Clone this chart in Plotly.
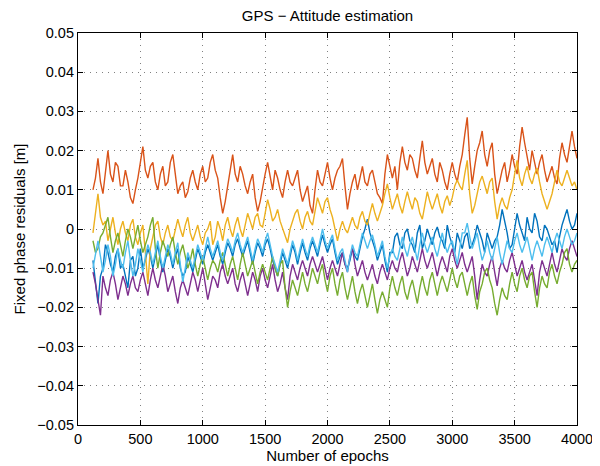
import plotly.graph_objects as go

# epochs (x values), every 20 epochs from 120 to 4000
epochs = list(range(120, 4001, 20))

# residuals in millimetres
blue_mm = [-8, -13, -19, -12, -10, -4, -6, -9, -11, -7, -5, -10, -9, -12, -15, -8, -7, -12, -10, -5,
           -10, -8, -5, -7, -10, -7, -4, -8, -11, -8, -5, -7, -10, -7, -5, -10, -12, -11, -7, -9,
           -11, -8, -5, -7, -9, -6, -4, -6, -8, -6, -4, -7, -9, -6, -3.5, -5, -7, -4, -2.5, -5,
           -7, -5, -3, -6, -9, -6, -3.5, -5, -7, -4, -2.5, -5, -8, -10, -12, -9, -6, -8, -10, -7,
           -4, -6, -9, -6, -3.5, -6, -8, -5, -3, -5, -7, -4, -1.5, -4, -6, -4, -2.5, -6, -9, -7,
           -6, -9, -10, -8, -5, -7, -8, -5, -2, 0, 2.5, -1, -3, -5, -8, -6, -4, -8, -11, -6,
           -6, -2, -1, -4, -5, -1, 0, -3, -4, -6, -1, 1, -5, -3, 0, -2, -4, -1, 0.5, -2,
           -3, -5, 1, -2, -4, -6, -1, -3, -5, -2, -1, -5, -4, -2, 1, -1, -3, -6, -1, -3,
           -5, -3, -2, 1, 5, 2, -1, -5, -4, 0, 4, 1, -1, -3, 3, 0, -1, 4, 2, -2,
           -3, 1, 0, -2, -4, -3, -6, -2, 1, 3, 5, 2, 0, 1, 4]
orange_mm = [10, 13, 18, 12, 9, 15, 20, 14, 12, 17, 16, 11, 11, 15, 12, 8, 6.5, 10, 13, 17,
             21, 15, 13, 16, 17, 12, 10, 14, 16, 11, 12, 17, 19, 14, 9, 11, 12, 8, 9.5, 13,
             15, 12, 10, 14, 16, 12, 13, 17, 19, 15, 13, 8, 4, 7, 11, 16, 19, 14, 12, 16,
             14, 11, 9, 12, 14, 8, 4.5, 7, 11, 14, 17, 13, 10, 15, 13, 10, 8, 12, 15, 12,
             11, 13, 15, 10, 7, 9, 11, 6, 4, 10, 15, 12, 11, 14, 17, 13, 10, 13, 15, 16,
             18, 11, 5, 9, 12, 14, 10, 13, 16, 12, 11, 14, 15, 12, 9, 8, 6.5, 14, 19, 16,
             13, 16, 10, 17, 21, 17, 15, 19, 18, 15, 13, 18, 22.5, 17, 14, 16, 18, 14, 12, 17,
             15, 12, 10, 14, 17, 14, 12, 16, 19, 24, 28.5, 18, 11.5, 16, 20, 22, 25, 19, 16, 20,
             22, 14, 9, 12, 15, 17, 12, 15, 19, 16, 14, 21, 26, 22, 18, 15, 20, 17, 14, 17,
             19, 15, 12, 14, 16, 13, 11.5, 18, 22, 19, 17, 21, 25, 21, 18]
yellow_mm = [-1, 4, 9, 3, 1, 2, -3, 0, 3, -1, -4, 0, 2, -1, -3, 1, 2.5, -2, -4, -1,
             1, -6, -14, -5, -2, 1, 2, -2, -4, -1, 1, -2, -3, 0, 2.5, 0, -2, 1, 3, -1,
             -3, -1, 1, -2, -4, -1, 0, 2, -4, -2, 2, 0, -3, 1, 3, 0, -2, 1, 3, 0,
             -2, 1, 4, 2, 0, 3, 4, 1, 0.5, 4, 7.5, 5, 2, 3, 5, 2, 0, -2, -3.5, 0,
             2, 4, 5, 2, 0, 3, 4.5, 2, 1, 5, 8, 6, 4, 7, 8, 5, 3, 0, -3, 0,
             2, 0, -1, 1, 3, 1, 0, 3, 4.5, 2, 1, 4, 6.5, 4, 2, 4, 6, 9, 11.5, 8,
             5, 7, 9, 6, 4, 7, 9.5, 7, 5, 8, 7, 4, 2.5, 6, 9.5, 7, 5, 7, 9, 6,
             4, 7, 8.5, 6, 8, 11, 12.5, 11, 10, 14, 17.5, 9, 4, 6, 9, 12, 13.5, 11, 9, 12,
             13, 7, 2.5, 6, 8, 6, 5, 8, 10, 14, 17.5, 13, 11, 14, 16, 13, 11.5, 14, 15.5, 12,
             9, 7, 5, 7, 9, 12, 15, 12, 11, 13, 15, 13, 11, 12, 10]
purple_mm = [-11, -14, -18, -22, -12, -15, -17, -13, -11, -14, -18, -15, -12, -14, -17, -14, -12, -15, -16, -13,
             -11, -14, -17, -13, -10, -13, -15, -12, -9, -12, -16, -14, -12, -16, -19, -15, -13, -15, -17, -14,
             -11, -13, -16, -13, -10, -14, -18, -15, -12, -13, -15, -11, -9, -12, -14, -12, -10, -14, -16, -13,
             -11, -14, -17, -14, -11, -13, -16, -12, -10, -13, -15, -12, -9, -13, -16, -14, -11, -15, -18, -12,
             -9, -11, -13, -10, -8, -10, -12, -9, -7, -9, -11, -9, -7, -10, -13, -10, -8, -10, -12, -9,
             -6, -9, -11, -7, -5, -9, -12, -10, -8, -11, -13, -11, -9, -12, -14, -11, -9, -11, -13, -10,
             -8, -10, -11, -8, -6, -9, -12, -10, -7, -9, -11, -8, -5, -8, -10, -8, -6, -9, -12, -9,
             -7, -9, -11, -7, -5, -8, -10, -8, -6, -9, -11, -9, -7, -12, -18, -13, -9, -11, -12, -9,
             -7, -11, -14.5, -10, -8, -10, -11, -8, -6, -9, -12, -10, -8, -11, -13, -11, -9, -13, -17, -11,
             -8, -10, -12, -9, -6, -9, -11, -8, -5, -7, -8, -5, -3, -5, -7]
green_mm = [-3, -6, -5, -2, -1, 1, 3, -2, -6, -3, -1, -4, -7, -3, 0, -2, -5, -2, 1, -3,
            -6, -4, -2, 1, 3, -5, -10, -6, -3, -5, -7, -4, -2, -6, -9, -6, -4, -7, -10, -8,
            -5, -9, -12, -9, -7, -10, -13, -10, -8, -9, -11, -8, -6, -9, -12, -9, -7, -10, -13, -9,
            -6, -9, -12, -10, -8, -11, -14, -11, -9, -11, -13, -10, -7, -10, -12, -9, -8, -15, -20, -16,
            -13, -15, -17, -14, -11, -14, -16, -13, -10, -12, -14, -11, -9, -13, -16, -12, -10, -14, -17, -13,
            -11, -15, -18, -15, -12, -16, -19, -16, -14, -17, -20, -17, -14, -18, -21.5, -18, -16, -18, -20, -15,
            -12, -15, -17, -14, -12, -16, -18, -15, -13, -16, -19, -15, -12, -15, -17, -13, -11, -14, -17, -14,
            -12, -14, -16, -13, -10, -13, -15, -12, -11, -14, -17, -14, -12, -17, -20.5, -16, -14, -11, -10, -13,
            -15, -19, -22, -18, -15, -17, -18, -14, -11, -14, -16, -12, -10, -13, -15, -12, -11, -16, -20, -15,
            -12, -14, -15, -11, -9, -12, -14, -11, -9, -6, -5, -9, -11, -9, -8]
lightblue_mm = [-10, -6, -3, -7, -11, -8, -4, -7, -12, -9, -5, -8, -10, -6, -3, -8, -12, -9, -5, -8,
                -11, -7, -4, -6, -9, -6, -3, -7, -10, -7, -4, -6, -9, -6, -3.5, -9, -13.5, -10, -6, -8,
                -10, -7, -4, -6, -8, -5, -2, -5, -7, -5, -3, -6, -8, -5, -2.5, -4, -6, -3, -1, -4,
                -6, -4, -2, -5, -8, -5, -2.5, -4, -6, -3, -1, -4, -7, -9, -11, -8, -5, -7, -9, -6,
                -3, -5, -8, -5, -2.5, -5, -7, -4, -2, -4, -6, -3, 0, -3, -5, -3, -1.5, -5, -8, -6,
                -5, -8, -11, -7, -4, -6, -7, -4, -1, -3, -5, -3, -1.5, -4, -7, -5, -3, -7, -10, -7,
                -5, -7, -8, -5, -2, -5, -7, -4, -2, -5, -8, -4, -1, -4, -6, -4, -2, -5, -7, -4,
                -1, -4, -6, -4, -3, -6, -9, -5, -1, -1, 1.5, -2, -5, -3, -1, -5, -8, -6, -3, -6,
                -8, -5, -2, -6, -9, -6, -3, -5, -6, -3, -1, -4, -6, -4, -2, -5, -8, -5, -3, -5,
                -7, -4, -2, -4, -6, -3, -1, -3, -5, -2, 0, -2, -4, -3, -1]

series = [
    ("blue", blue_mm, "#0072BD"),
    ("orange", orange_mm, "#D95319"),
    ("yellow", yellow_mm, "#EDB120"),
    ("purple", purple_mm, "#7E2F8E"),
    ("green", green_mm, "#77AC30"),
    ("lightblue", lightblue_mm, "#4DBEEE"),
]

y_ticks = [0.05, 0.04, 0.03, 0.02, 0.01, 0, -0.01, -0.02, -0.03, -0.04, -0.05]
y_ticklabels = ["0.05", "0.04", "0.03", "0.02", "0.01", "0",
                "\u22120.01", "\u22120.02", "\u22120.03", "\u22120.04", "\u22120.05"]
x_ticks = [0, 500, 1000, 1500, 2000, 2500, 3000, 3500, 4000]

fig = go.Figure()
for name, vals, col in series:
    fig.add_trace(go.Scatter(x=epochs, y=[v / 1000 for v in vals], mode="lines", name=name,
                             line=dict(color=col, width=1.4), showlegend=False))

font = "Liberation Sans, Arial, Helvetica, sans-serif"
axis_common = dict(showline=True, linecolor="black", linewidth=1.2, mirror="ticks",
                   ticks="inside", ticklen=5, tickcolor="black",
                   showgrid=True, gridcolor="#808080", griddash="1px,5px", gridwidth=1,
                   zeroline=False, automargin=False,
                   tickfont=dict(size=14.5, color="black", family=font))

# page body adds an 8 px offset, so the figure is sized to sit inside the 600x466 window
fig.update_layout(
    width=592, height=458,
    margin=dict(l=70, r=23, t=25, b=41),
    paper_bgcolor="white", plot_bgcolor="white",
    title=dict(text="GPS \u2212 Attitude estimation", x=0.5, xref="paper", xanchor="center",
               y=1 - 8 / 458, yanchor="middle",
               font=dict(size=15, color="black", family=font)),
    font=dict(family=font, color="black"),
    xaxis=dict(range=[0, 4000], tickvals=x_ticks,
               title=dict(text="Number of epochs", standoff=4, font=dict(size=15)), **axis_common),
    yaxis=dict(range=[-0.05, 0.05], tickvals=y_ticks, ticktext=y_ticklabels,
               title=dict(text="Fixed phase residuals [m]", standoff=8, font=dict(size=15)), **axis_common),
)

fig.write_html("out.html")
